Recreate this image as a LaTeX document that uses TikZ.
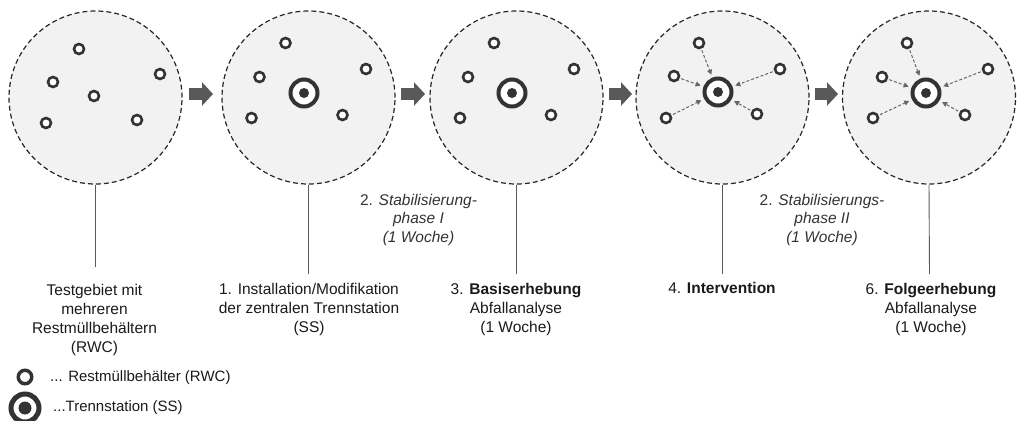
\documentclass[tikz,border=0pt]{standalone}
\usepackage{fontspec}
\setmainfont{Liberation Sans}
\usetikzlibrary{arrows.meta}
\definecolor{cfill}{HTML}{F2F2F2}
\definecolor{dark}{HTML}{333333}
\definecolor{arr}{HTML}{595959}
\definecolor{flowc}{HTML}{666666}
\definecolor{txt}{HTML}{1A1A1A}
\definecolor{itxt}{HTML}{333333}
\begin{document}
\begin{tikzpicture}[x=1bp,y=-1bp,
  area/.style={circle, draw=black!85, fill=cfill, line width=1.2bp, dash pattern=on 5bp off 3bp, minimum size=173bp, inner sep=0pt},
  rwc/.style={circle, draw=dark, fill=white, line width=2.6bp, minimum size=10bp, inner sep=0pt},
  ss/.style={circle, draw=dark, fill=white, line width=4bp, minimum size=27bp, inner sep=0pt,
    path picture={\fill[dark] (path picture bounding box.center) circle (5bp);}},
  blockarrow/.style={draw=arr, line width=12bp, -{Triangle[length=11bp,width=23bp]}},
  flow/.style={draw=flowc, line width=1bp, dash pattern=on 3bp off 2bp, -{Triangle[length=5bp,width=5bp]}, shorten <=1.5bp, shorten >=3bp},
  vline/.style={draw=black!65, line width=0.9bp},
  label/.style={font=\fontsize{15.5bp}{19bp}\selectfont, text=txt, align=center, anchor=base, inner sep=0pt},
  stab/.style={font=\fontsize{15.5bp}{18.5bp}\selectfont, text=itxt, align=center, anchor=base, inner sep=0pt},
  legtext/.style={font=\fontsize{15bp}{18bp}\selectfont, text=txt, anchor=west, inner sep=0pt}
]
\useasboundingbox (0,0) rectangle (1019,420);

% areas
\node[area] (C1) at (95.5,97.5) {};
\node[area] (C2) at (308.5,97.5) {};
\node[area] (C3) at (516.5,97.5) {};
\node[area] (C4) at (722.5,97.5) {};
\node[area] (C5) at (929,97.5) {};

% block arrows
\draw[blockarrow, shorten <=6.4bp, shorten >=8.4bp] ([yshift=3.5bp]C1.east) -- ([yshift=3.5bp]C2.west);
\draw[blockarrow, shorten <=5.4bp, shorten >=4.4bp] ([yshift=3.5bp]C2.east) -- ([yshift=3.5bp]C3.west);
\draw[blockarrow, shorten <=5.4bp, shorten >=3.4bp] ([yshift=3.5bp]C3.east) -- ([yshift=3.5bp]C4.west);
\draw[blockarrow, shorten <=5.4bp, shorten >=3.9bp] ([yshift=3.5bp]C4.east) -- ([yshift=3.5bp]C5.west);

% circle 1
\node[rwc] (a1) at (79,49) {};
\node[rwc] (a2) at (53,82) {};
\node[rwc] (a3) at (94,96) {};
\node[rwc] (a4) at (160,74) {};
\node[rwc] (a5) at (46,123) {};
\node[rwc] (a6) at (137,120) {};

% circle 2
\node[rwc] (b1) at (285.5,43) {};
\node[rwc] (b2) at (259.5,77) {};
\node[rwc] (b3) at (366,69) {};
\node[rwc] (b4) at (251.5,118) {};
\node[rwc] (b5) at (342.5,115) {};
\node[ss] (bs) at (304,93) {};

% circle 3
\node[rwc] (c1) at (494,43) {};
\node[rwc] (c2) at (468,77) {};
\node[rwc] (c3) at (574,69) {};
\node[rwc] (c4) at (460,118) {};
\node[rwc] (c5) at (551,115) {};
\node[ss] (cs) at (512,93) {};

% circle 4
\node[rwc] (d1) at (699,43) {};
\node[rwc] (d2) at (674,76) {};
\node[rwc] (d3) at (780,69) {};
\node[rwc] (d4) at (666,118) {};
\node[rwc] (d5) at (757,114) {};
\node[ss] (ds) at (718,92) {};
\foreach \n in {d1,d2,d3,d4,d5} \draw[flow] (\n) -- (ds);

% circle 5
\node[rwc] (e1) at (907,43) {};
\node[rwc] (e2) at (882,77) {};
\node[rwc] (e3) at (988,69) {};
\node[rwc] (e4) at (873,118) {};
\node[rwc] (e5) at (965,115) {};
\node[ss] (es) at (926,93) {};
\foreach \n in {e1,e2,e3,e4,e5} \draw[flow] (\n) -- (es);

% vertical lines
\coordinate (L1) at (95.5,267);
\coordinate (L2) at (308.5,274);
\coordinate (L3) at (516.5,274);
\coordinate (L4) at (722.5,274);
\coordinate (L5) at (929.5,274);
\draw[vline] (C1.south) -- (L1);
\draw[vline] (C2.south) -- (L2);
\draw[vline] (C3.south) -- (L3);
\draw[vline] (C4.south) -- (L4);
\draw[vline] (C5.south) -- (L5);

% labels (anchor = baseline of the last line)
\node[label] (t1) at (94.5,352) {Testgebiet mit\\mehreren\\Restmüllbehältern\\(RWC)};
\node[label] (t2) at (309,332) {1. Installation/Modifikation\\der zentralen Trennstation\\(SS)};
\node[label] (t3) at (516,332) {3. \textbf{Basiserhebung}\\Abfallanalyse\\(1 Woche)};
\node[label] (t4) at (722,293) {4. \textbf{Intervention}};
\node[label] (t6) at (931,332) {6. \textbf{Folgeerhebung}\\Abfallanalyse\\(1 Woche)};
\node[stab] (s1) at (418.5,242) {2. \textit{Stabilisierung-}\\\textit{phase I}\\\textit{(1 Woche)}};
\node[stab] (s2) at (822,242) {2. \textit{Stabilisierungs-}\\\textit{phase II}\\\textit{(1 Woche)}};

% legend
\node[circle, draw=dark, fill=white, line width=3.5bp, minimum size=13.5bp, inner sep=0pt] (lr) at (25,377) {};
\node[legtext] (lrt) at (50,378) {... Restmüllbehälter (RWC)};
\node[circle, draw=dark, fill=white, line width=5bp, minimum size=28bp, inner sep=0pt,
  path picture={\fill[dark] (path picture bounding box.center) circle (6.5bp);}] (ls) at (25,408) {};
\node[legtext] (lst) at (53,408) {...Trennstation (SS)};
\end{tikzpicture}
\end{document}
